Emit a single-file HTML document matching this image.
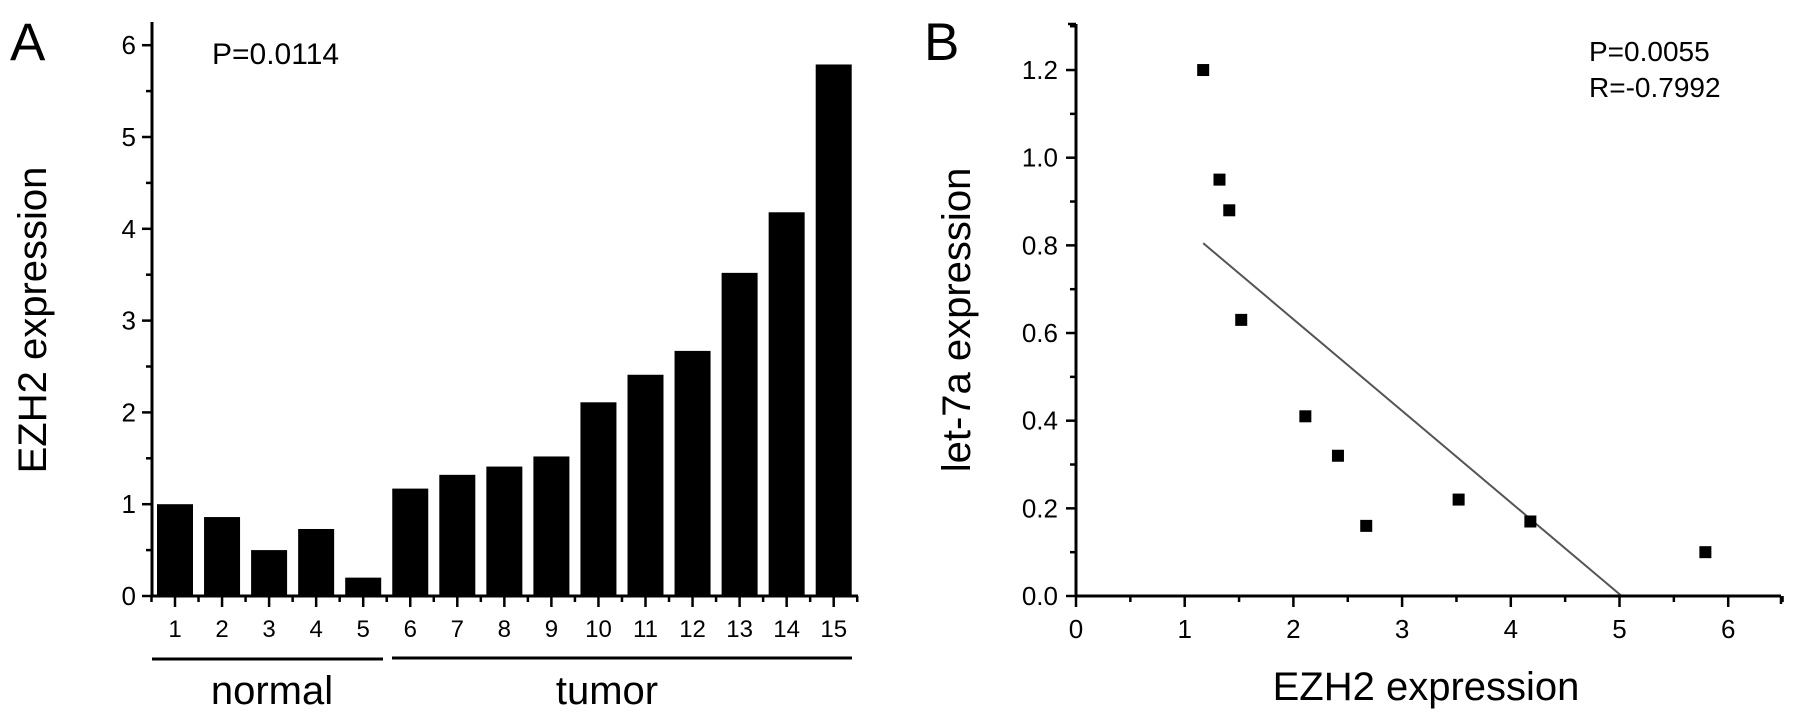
<!DOCTYPE html>
<html><head><meta charset="utf-8"><style>
html,body{margin:0;padding:0;background:#fff;}
svg{display:block;font-family:"Liberation Sans",Arial,sans-serif;}
</style></head><body>
<svg id="fig" width="1795" height="722" viewBox="0 0 1795 722" xmlns="http://www.w3.org/2000/svg">
<text x="10" y="60" font-size="53">A</text>
<text x="212" y="64" font-size="30">P=0.0114</text>
<text transform="translate(46,320) rotate(-90)" text-anchor="middle" font-size="40">EZH2 expression</text>
<g id="ga"></g>
<line x1="152" y1="659" x2="383" y2="659" stroke="#000" stroke-width="3"/>
<line x1="392" y1="658" x2="852" y2="658" stroke="#000" stroke-width="3"/>
<text x="272" y="704" font-size="40" text-anchor="middle">normal</text>
<text x="607" y="704" font-size="40" text-anchor="middle">tumor</text>

<text x="924" y="60" font-size="53">B</text>
<text x="1589" y="61" font-size="28">P=0.0055</text>
<text x="1589" y="97" font-size="28">R=-0.7992</text>
<text transform="translate(970,320) rotate(-90)" text-anchor="middle" font-size="40">let-7a expression</text>
<text x="1426" y="700" font-size="40" text-anchor="middle">EZH2 expression</text>
<g id="gb"></g>
</svg>
<script>
const barCategories = ["1","2","3","4","5","6","7","8","9","10","11","12","13","14","15"];
const barValues = [1.0,0.86,0.5,0.73,0.2,1.17,1.32,1.41,1.52,2.11,2.41,2.67,3.52,4.18,5.79];
const barYTicks = [0,1,2,3,4,5,6];
const scatterX = [1.17,1.32,1.41,1.52,2.11,2.41,2.67,3.52,4.18,5.79];
const scatterY = [1.2,0.95,0.88,0.63,0.41,0.32,0.16,0.22,0.17,0.10];
const fitLineX = [1.17,5.02];
const fitLineY = [0.805,0.0];
const scatterXTicks = [0,1,2,3,4,5,6];
const scatterYTicks = ["0.0","0.2","0.4","0.6","0.8","1.0","1.2"];

const NS="http://www.w3.org/2000/svg";
function mk(tag,attrs,parent,txt){const e=document.createElementNS(NS,tag);for(const k in attrs)e.setAttribute(k,attrs[k]);if(txt!==undefined)e.textContent=txt;parent.appendChild(e);return e;}

// Panel A
const ga=document.getElementById('ga');
const aX0=152,aY0=596,aUnit=91.8,aStep=47.05,aFirst=175,aEnd=858,aTop=22;
const ax=i=>aFirst+i*aStep;
const ay=v=>aY0-v*aUnit;
barValues.forEach((v,i)=>{
  const r=mk('rect',{x:ax(i)-18,y:ay(v),width:36,height:aY0-ay(v),fill:'#000'},ga);
  
  
  const t=mk('text',{x:ax(i),y:637,'font-size':24,'text-anchor':'middle'},ga,barCategories[i]);
  
  
  mk('line',{x1:ax(i),y1:aY0,x2:ax(i),y2:aY0+11,stroke:'#000','stroke-width':2.5},ga);
  mk('line',{x1:ax(i)-aStep/2,y1:aY0,x2:ax(i)-aStep/2,y2:aY0+6,stroke:'#000','stroke-width':2.5},ga);
});
mk('line',{x1:ax(14)+aStep/2,y1:aY0,x2:ax(14)+aStep/2,y2:aY0+6,stroke:'#000','stroke-width':2.5},ga);
barYTicks.forEach(v=>{
  mk('line',{x1:aX0-10,y1:ay(v),x2:aX0,y2:ay(v),stroke:'#000','stroke-width':2.5},ga);
  const t=mk('text',{x:aX0-16,y:ay(v)+9,'font-size':26,'text-anchor':'end'},ga,String(v));
  
  
  if(v<6) mk('line',{x1:aX0-6,y1:ay(v+0.5),x2:aX0,y2:ay(v+0.5),stroke:'#000','stroke-width':2.5},ga);
});
const aya=mk('line',{x1:aX0,y1:aTop,x2:aX0,y2:aY0+1,stroke:'#000','stroke-width':3},ga);
 
const axa=mk('line',{x1:aX0-1,y1:aY0,x2:aEnd,y2:aY0,stroke:'#000','stroke-width':3},ga);
 

// Panel B
const gb=document.getElementById('gb');
const bX0=1076,bY0=596,bxU=108.7,byU=438.3,bEnd=1781,bTop=24;
const bx=v=>bX0+v*bxU;
const by=v=>bY0-v*byU;
scatterXTicks.forEach(v=>{
  mk('line',{x1:bx(v),y1:bY0,x2:bx(v),y2:bY0+11,stroke:'#000','stroke-width':2.5},gb);
  mk('line',{x1:bx(v+0.5),y1:bY0,x2:bx(v+0.5),y2:bY0+6,stroke:'#000','stroke-width':2.5},gb);
  const t=mk('text',{x:bx(v),y:638,'font-size':26,'text-anchor':'middle'},gb,String(v));
  
  
});
scatterYTicks.forEach(s=>{
  const v=parseFloat(s);
  mk('line',{x1:bX0-10,y1:by(v),x2:bX0,y2:by(v),stroke:'#000','stroke-width':2.5},gb);
  mk('line',{x1:bX0-6,y1:by(v+0.1),x2:bX0,y2:by(v+0.1),stroke:'#000','stroke-width':2.5},gb);
  const t=mk('text',{x:bX0-18,y:by(v)+9,'font-size':26,'text-anchor':'end'},gb,s);
  
  
});
const fl=mk('line',{x1:bx(fitLineX[0]),y1:by(fitLineY[0]),x2:bx(fitLineX[1]),y2:by(fitLineY[1]),stroke:'#555','stroke-width':2},gb);
 
scatterX.forEach((x,i)=>{
  const r=mk('rect',{x:bx(x)-6,y:by(scatterY[i])-6,width:12,height:12,fill:'#000'},gb);
  
  
});
const bya=mk('line',{x1:bX0,y1:bTop,x2:bX0,y2:bY0+1,stroke:'#000','stroke-width':3},gb);
 
mk('line',{x1:bX0-8,y1:bTop,x2:bX0,y2:bTop,stroke:'#000','stroke-width':2.5},gb);
const bxa=mk('line',{x1:bX0-1,y1:bY0,x2:bEnd,y2:bY0,stroke:'#000','stroke-width':3},gb);
 
mk('line',{x1:bEnd,y1:bY0,x2:bEnd,y2:bY0+8,stroke:'#000','stroke-width':2.5},gb);
</script>
</body></html>
